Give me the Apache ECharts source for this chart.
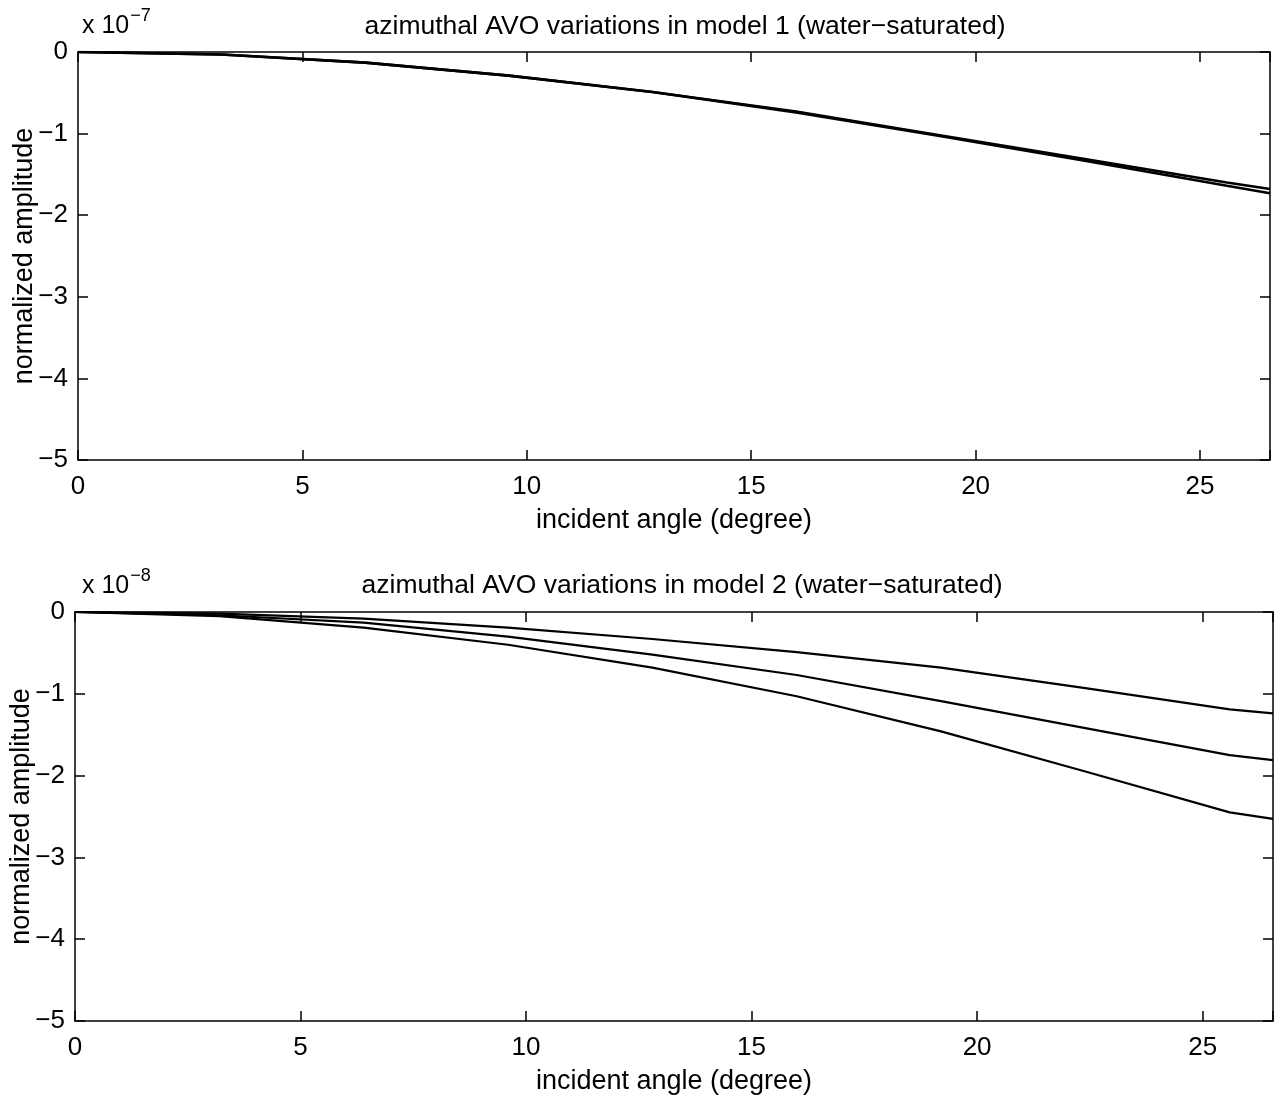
<!DOCTYPE html>
<html>
<head>
<meta charset="utf-8">
<script src="https://cdn.jsdelivr.net/npm/echarts@6/dist/echarts.min.js"></script>
<style>
  html, body { margin: 0; padding: 0; background: #fff; }
  #chart { width: 1275px; height: 1101px; }
</style>
</head>
<body>
<div id="chart"></div>
<script>
// incident angles (degree) where the curves are sampled
const angles = [0, 3.2, 6.4, 9.6, 12.8, 16, 19.2, 22.4, 25.6, 26.56];

// model 1, values in units of 1e-7
const model1A = [0, -0.03, -0.13, -0.29, -0.49, -0.73, -1.02, -1.31, -1.60, -1.68];
const model1B = [0, -0.03, -0.13, -0.29, -0.49, -0.74, -1.03, -1.33, -1.64, -1.73];

// model 2, values in units of 1e-8
const model2A = [0, -0.02, -0.08, -0.19, -0.33, -0.49, -0.68, -0.93, -1.19, -1.24];
const model2B = [0, -0.04, -0.13, -0.30, -0.52, -0.77, -1.09, -1.42, -1.75, -1.81];
const model2C = [0, -0.05, -0.19, -0.40, -0.68, -1.03, -1.46, -1.95, -2.45, -2.53];

const xMax = 26.56;
const yTicks = [0, -1, -2, -3, -4, -5];

const FONT = "'Liberation Sans', Arial, Helvetica, sans-serif";
const MINUS = "\u2212";

const pairs = (vals) => angles.map((a, i) => [a, vals[i]]);
const fmtNum = (v) => (v < 0 ? MINUS + Math.abs(v) : String(v));

const chart = echarts.init(document.getElementById("chart"), null, { renderer: "canvas" });

const axisLine = { show: true, onZero: false, lineStyle: { color: "#000", width: 1.5 } };
const axisTick = { show: true, inside: true, length: 10, lineStyle: { color: "#000", width: 1.5 } };

function xAxes(gridIndex) {
  return [
    {
      type: "value", gridIndex, min: 0, max: xMax, interval: 5, position: "bottom",
      axisLine, axisTick, splitLine: { show: false },
      axisLabel: {
        color: "#000", fontSize: 26, fontFamily: FONT, margin: 14,
        formatter: (v) => (v % 5 === 0 ? fmtNum(v) : ""),
      },
      name: "incident angle (degree)", nameLocation: "middle", nameGap: 47,
      nameTextStyle: { color: "#000", fontSize: 27, fontFamily: FONT },
    },
    {
      type: "value", gridIndex, min: 0, max: xMax, interval: 5, position: "top",
      axisLine, axisTick, splitLine: { show: false }, axisLabel: { show: false },
    },
  ];
}

function yAxes(gridIndex) {
  return [
    {
      type: "value", gridIndex, min: -5, max: 0, interval: 1, position: "left",
      axisLine, axisTick, splitLine: { show: false },
      axisLabel: {
        color: "#000", fontSize: 26, fontFamily: FONT, margin: 10,
        formatter: (v) => (yTicks.includes(v) ? fmtNum(v) : ""),
      },
      name: "normalized amplitude", nameLocation: "middle", nameGap: 40, nameRotate: 90,
      nameMoveOverlap: false,
      nameTextStyle: { color: "#000", fontSize: 27, fontFamily: FONT },
    },
    {
      type: "value", gridIndex, min: -5, max: 0, interval: 1, position: "right",
      axisLine, axisTick, splitLine: { show: false }, axisLabel: { show: false },
    },
  ];
}

function line(name, xi, yi, vals, width) {
  return {
    type: "line", name, xAxisIndex: xi, yAxisIndex: yi, data: pairs(vals),
    showSymbol: false, symbol: "none", animation: false, silent: true,
    lineStyle: { color: "#000", width },
  };
}

function exponent(top, exp) {
  return {
    type: "text", left: 82, top,
    style: {
      text: "{b|x 10}{s|" + MINUS + exp + "}",
      rich: {
        b: { fontSize: 25, fontFamily: FONT, fill: "#000", verticalAlign: "bottom", lineHeight: 32 },
        s: { fontSize: 18, fontFamily: FONT, fill: "#000", verticalAlign: "top", lineHeight: 32, padding: [0, 0, 14, 1] },
      },
    },
  };
}

const option = {
  backgroundColor: "#fff",
  animation: false,
  title: [
    {
      text: "azimuthal AVO variations in model 1 (water" + MINUS + "saturated)",
      left: 680, top: 8, textAlign: "center",
      textStyle: { color: "#000", fontSize: 26.5, fontWeight: "normal", fontFamily: FONT },
    },
    {
      text: "azimuthal AVO variations in model 2 (water" + MINUS + "saturated)",
      left: 677, top: 567, textAlign: "center",
      textStyle: { color: "#000", fontSize: 26.5, fontWeight: "normal", fontFamily: FONT },
    },
  ],
  grid: [
    { left: 78, right: 5, top: 52, height: 408, outerBoundsMode: "none", containLabel: false },
    { left: 75, right: 2, top: 612, height: 409, outerBoundsMode: "none", containLabel: false },
  ],
  xAxis: [...xAxes(0), ...xAxes(1)],
  yAxis: [...yAxes(0), ...yAxes(1)],
  series: [
    line("model 1 a", 0, 0, model1A, 2.6),
    line("model 1 b", 0, 0, model1B, 2.6),
    line("model 2 a", 2, 2, model2A, 2.2),
    line("model 2 b", 2, 2, model2B, 2.2),
    line("model 2 c", 2, 2, model2C, 2.2),
  ],
  graphic: [exponent(7, 7), exponent(567, 8)],
};

chart.setOption(option);
</script>
</body>
</html>
